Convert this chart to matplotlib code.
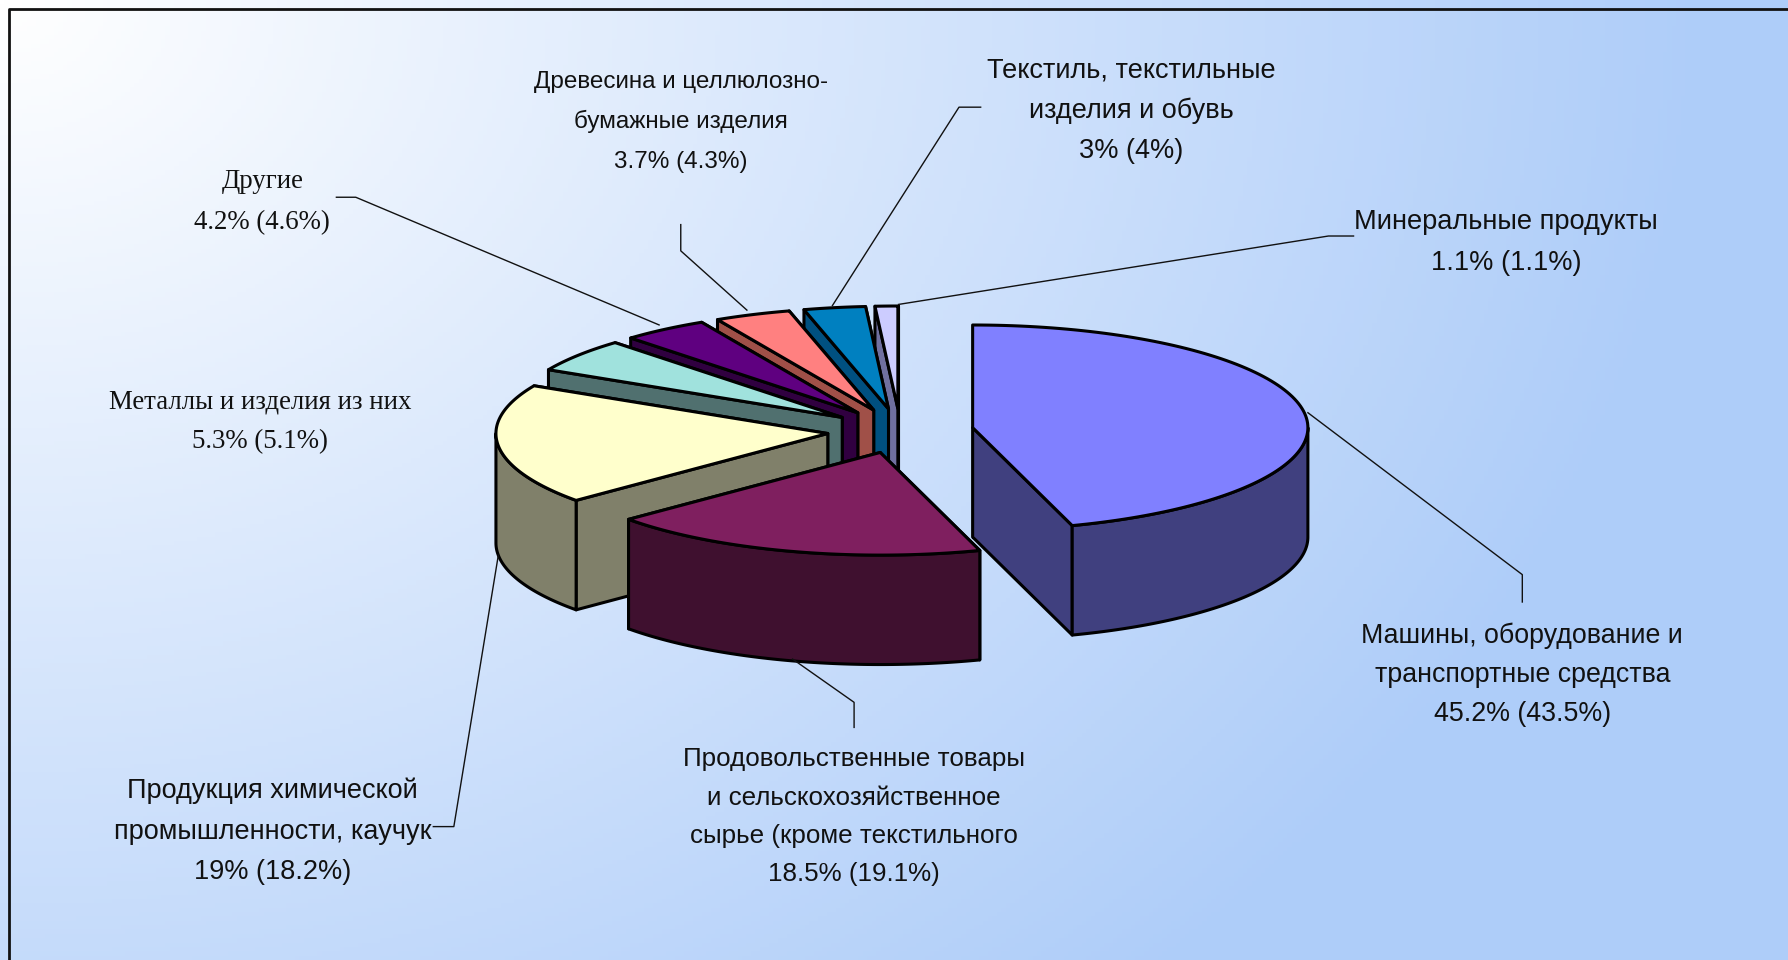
import numpy as np
import matplotlib
matplotlib.use("Agg")
import matplotlib.pyplot as plt
from matplotlib.patches import Polygon

# shares, clockwise from 12 o'clock
categories = [
    ["Машины, оборудование и", "транспортные средства"],
    ["Продовольственные товары", "и сельскохозяйственное", "сырье (кроме текстильного"],
    ["Продукция химической", "промышленности, каучук"],
    ["Металлы и изделия из них"],
    ["Другие"],
    ["Древесина и целлюлозно-", "бумажные изделия"],
    ["Текстиль, текстильные", "изделия и обувь"],
    ["Минеральные продукты"],
]
share_now = [45.2, 18.5, 19, 5.3, 4.2, 3.7, 3, 1.1]
share_prev = [43.5, 19.1, 18.2, 5.1, 4.6, 4.3, 4, 1.1]

top_colors = ["#8080ff", "#7f1f5f", "#ffffcc", "#a0e2dd", "#5f0080", "#ff8080", "#0080c0", "#ccccff"]
side_colors = ["#40407f", "#3f102f", "#80806a", "#50706f", "#300040", "#a05048", "#005080", "#7070a0"]

# layout, in pixels of the 1568 wide view
label_x = [1335, 749, 239, 228, 230, 597, 992, 1321]
label_y = [564, 672, 700, 358, 165, 77, 68, 201]
label_step = [34, 33.7, 35.5, 35, 36, 35, 35.5, 36]
label_font = ["Liberation Sans", "Liberation Sans", "Liberation Sans", "Liberation Serif", "Liberation Serif",
              "Liberation Sans", "Liberation Sans", "Liberation Sans"]
label_size = [19.3, 18.7, 19.5, 19.4, 19.4, 17.5, 19.5, 19.6]
leaders = [
    [(1335, 528), (1335, 504), (1147, 362)],
    [(749, 638), (749, 616), (695, 578)],
    [(380, 725), (398, 725), (437, 487)],
    [],
    [(295, 173), (312, 173), (578, 285)],
    [(597, 197), (597, 220), (655, 272)],
    [(860, 94), (841, 94), (730, 268)],
    [(1187, 207), (1165, 207), (788, 267)],
]
cx, cy = 789.6, 378
rx_right, rx_left, ry = 294, 291, 90
depth = 96
explode = 0.218

W, H = 1568, 842
fig = plt.figure(figsize=(17.88, 9.6), dpi=100)
ax = fig.add_axes([0, 0, 1, 1])
ax.set_xlim(0, W)
ax.set_ylim(H, 0)
ax.axis("off")

# background gradient from the top left corner
gx, gy = np.meshgrid(np.linspace(0, W, 400), np.linspace(0, H, 220))
t = np.clip(np.hypot(gx / 1500, gy / 1170), 0, 1)[..., None]
bg = (1 - t) * np.array([1, 1, 1]) + t * np.array([174, 205, 249]) / 255
ax.imshow(bg, extent=[0, W, H, 0], aspect="auto", zorder=0)
ax.plot([8, 8, W], [H, 8, 8], color="#111111", lw=2, zorder=1)


def rim(ax0, ay0, a):
    s = np.sin(a)
    return np.column_stack([ax0 + np.where(s >= 0, rx_right, rx_left) * s, ay0 - ry * np.cos(a)])


def draw_slice(start, stop, top, side, z):
    mid = (start + stop) / 2
    x0 = cx + explode * rx_right * np.sin(mid)
    y0 = cy - explode * ry * np.cos(mid)
    edge = dict(edgecolor="black", lw=2.2, joinstyle="round", zorder=z)
    drop = np.array([0, depth])
    apex = np.array([x0, y0])
    # radial cut faces, the farther one first
    ends = sorted([rim(x0, y0, np.array([start]))[0], rim(x0, y0, np.array([stop]))[0]], key=lambda p: p[1])
    for p in ends:
        ax.add_patch(Polygon([apex, p, p + drop, apex + drop], facecolor=side, **edge))
    # outer wall, only the part facing the viewer
    a0, a1 = max(start, np.pi / 2), min(stop, 3 * np.pi / 2)
    if a1 > a0:
        arc = rim(x0, y0, np.linspace(a0, a1, 80))
        ax.add_patch(Polygon(np.vstack([arc, arc[::-1] + drop]), facecolor=side, **edge))
    arc = rim(x0, y0, np.linspace(start, stop, 120))
    ax.add_patch(Polygon(np.vstack([apex, arc]), facecolor=top, **edge))


bounds = np.concatenate([[0], np.cumsum(share_now)]) / sum(share_now) * 2 * np.pi
# back slices first so the front ones cover them
for i in [7, 6, 5, 4, 3, 2, 1, 0]:
    draw_slice(bounds[i], bounds[i + 1], top_colors[i], side_colors[i], 5 + (7 - i))

for pts in leaders:
    if pts:
        ax.plot([p[0] for p in pts], [p[1] for p in pts], color="#111111", lw=1, zorder=20)

for i, name in enumerate(categories):
    lines = name + ["%g%% (%g%%)" % (share_now[i], share_prev[i])]
    for k, line in enumerate(lines):
        ax.text(label_x[i], label_y[i] + k * label_step[i], line, ha="center", va="baseline",
                family=label_font[i], fontsize=label_size[i], color="#111111", zorder=21)

fig.savefig("out.png", dpi=100)
